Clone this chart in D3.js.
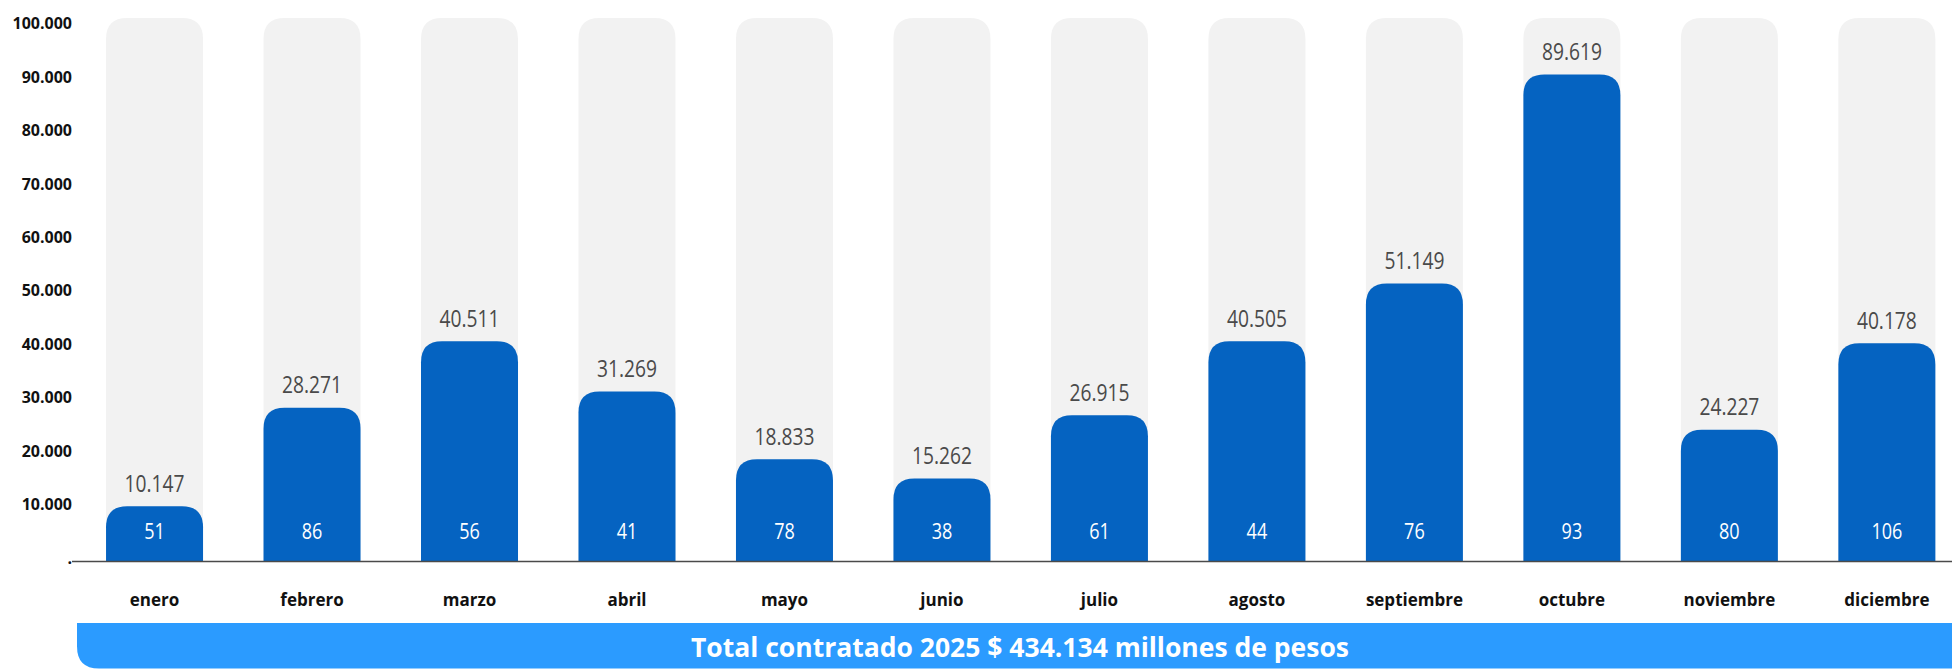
<!DOCTYPE html>
<html>
<head>
<meta charset="utf-8">
<script src="https://cdn.jsdelivr.net/npm/d3@7"></script>
<style>
  body { margin: 0; background: #fff; }
  svg { display: block; }
</style>
</head>
<body>
<svg id="chart" width="1952" height="669"></svg>
<script>
const months = ["enero", "febrero", "marzo", "abril", "mayo", "junio", "julio", "agosto", "septiembre", "octubre", "noviembre", "diciembre"];
const amounts = [10147, 28271, 40511, 31269, 18833, 15262, 26915, 40505, 51149, 89619, 24227, 40178];
const counts = [51, 86, 56, 41, 78, 38, 61, 44, 76, 93, 80, 106];
const yTicks = [0, 10000, 20000, 30000, 40000, 50000, 60000, 70000, 80000, 90000, 100000];
const totalText = "Total contratado 2025 $ 434.134 millones de pesos";

const data = months.map((m, i) => ({ month: m, amount: amounts[i], count: counts[i] }));

const width = 1952;
const baseY = 561.5;

const esLocale = d3.formatLocale({ decimal: ",", thousands: ".", grouping: [3], currency: ["$", ""] });
const fmt = esLocale.format(",d");

const svg = d3.select("#chart");

const x = d3.scaleBand()
  .domain(months)
  .range([75.8, 1965.6])
  .paddingInner(0.384)
  .paddingOuter(0.192);

const y = d3.scaleLinear().domain([0, 100000]).range([baseY, 18]);
// the axis labels sit on a slightly different spacing than the bars
const yLabel = d3.scaleLinear().domain([0, 100000]).range([558, 23.7]);

// path for a bar with only its top corners rounded
const topRounded = (x0, y0, w, h, r) => {
  r = Math.min(r, h, w / 2);
  return `M${x0},${y0 + h}V${y0 + r}Q${x0},${y0} ${x0 + r},${y0}H${x0 + w - r}Q${x0 + w},${y0} ${x0 + w},${y0 + r}V${y0 + h}Z`;
};

// y axis labels
const yAxis = svg.append("g")
  .attr("transform", "translate(72,0)")
  .call(d3.axisLeft(yLabel).tickValues(yTicks).tickSize(0).tickPadding(0)
    .tickFormat(d => d === 0 ? "." : fmt(d)));
yAxis.select(".domain").remove();
yAxis.selectAll("text")
  .attr("font-family", "'Open Sans', sans-serif")
  .attr("font-weight", 700)
  .attr("font-size", 16)
  .attr("fill", "#111");

// background bars
svg.append("g").selectAll("path")
  .data(data)
  .join("path")
  .attr("fill", "#f2f2f2")
  .attr("d", d => topRounded(x(d.month), y(100000), x.bandwidth(), baseY - y(100000), 21));

// value bars
svg.append("g").selectAll("path")
  .data(data)
  .join("path")
  .attr("fill", "#0563c1")
  .attr("d", d => topRounded(x(d.month), y(d.amount), x.bandwidth(), baseY - y(d.amount), 21));

// amount labels above bars (narrow look, squeezed horizontally)
svg.append("g").selectAll("text")
  .data(data)
  .join("text")
  .attr("transform", d => `translate(${x(d.month) + x.bandwidth() / 2},${y(d.amount) - 23}) scale(0.8,1)`)
  .attr("dy", "0.35em")
  .attr("text-anchor", "middle")
  .attr("font-family", "'Open Sans', sans-serif")
  .attr("font-weight", 500)
  .attr("font-size", 24)
  .attr("fill", "#4a4a4a")
  .text(d => fmt(d.amount));

// count labels inside bars
svg.append("g").selectAll("text")
  .data(data)
  .join("text")
  .attr("transform", d => `translate(${x(d.month) + x.bandwidth() / 2},${baseY - 30}) scale(0.82,1)`)
  .attr("dy", "0.35em")
  .attr("text-anchor", "middle")
  .attr("font-family", "'Open Sans', sans-serif")
  .attr("font-weight", 500)
  .attr("font-size", 22)
  .attr("fill", "#fff")
  .text(d => d.count);

// baseline
svg.append("line")
  .attr("x1", 72).attr("x2", width)
  .attr("y1", baseY).attr("y2", baseY)
  .attr("stroke", "#4a4a4a")
  .attr("stroke-width", 1.5);

// x axis labels
const xAxis = svg.append("g")
  .attr("transform", "translate(0,600)")
  .call(d3.axisBottom(x).tickSize(0).tickPadding(0));
xAxis.select(".domain").remove();
xAxis.selectAll("text")
  .attr("dy", "0.35em")
  .attr("font-family", "'Open Sans', sans-serif")
  .attr("font-weight", 700)
  .attr("font-size", 17)
  .attr("fill", "#111");

// total banner
const bx = 77, by = 623, bh = 45.5, br = 22;
svg.append("path")
  .attr("fill", "#2b9bff")
  .attr("d", `M${bx},${by}H${width}V${by + bh}H${bx + br}Q${bx},${by + bh} ${bx},${by + bh - br}Z`);

svg.append("text")
  .attr("x", 1020)
  .attr("y", by + bh / 2 + 2)
  .attr("dy", "0.35em")
  .attr("text-anchor", "middle")
  .attr("font-family", "'Open Sans', sans-serif")
  .attr("font-weight", 700)
  .attr("font-size", 26.5)
  .attr("fill", "#fff")
  .text(totalText);
</script>
</body>
</html>
